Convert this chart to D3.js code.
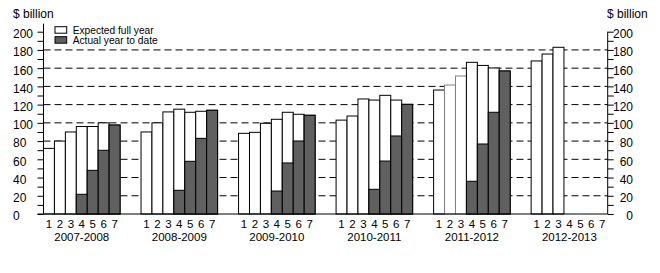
<!DOCTYPE html>
<html>
<head>
<meta charset="utf-8">
<script src="https://cdn.jsdelivr.net/npm/d3@7"></script>
<style>
  body { margin: 0; background: #fff; }
  text { font-family: "Liberation Sans", Arial, sans-serif; fill: #000; }
</style>
</head>
<body>
<svg id="chart" width="660" height="273"></svg>
<script>
// data
const years = ["2007-2008", "2008-2009", "2009-2010", "2010-2011", "2011-2012", "2012-2013"];
const slots = [1, 2, 3, 4, 5, 6, 7];
// expected full year, by slot (null = not yet)
const expected = [
  [72, 80, 90, 96, 96, 100, 97.6],
  [90, 100, 112, 115, 111.6, 112.7, 113.8],
  [88.5, 89.6, 99.5, 103.9, 111.6, 109.4, 108.3],
  [103, 107.5, 126.2, 125, 130.2, 125, 120.3],
  [136, 141.5, 151.4, 166.4, 163, 160.2, 156.9],
  [167.9, 175.5, 182.9, null, null, null, null]
];
// actual year to date, by slot
const actual = [
  [null, null, null, 21.6, 47.9, 69.9, 97.6],
  [null, null, null, 26, 57.8, 83, 113.8],
  [null, null, null, 25.2, 56, 80.1, 108.3],
  [null, null, null, 27.1, 58.1, 85.6, 120.3],
  [null, null, null, 35.9, 76.8, 111.6, 156.9],
  [null, null, null, null, null, null, null]
];
const yTicks = d3.range(0, 201, 10);
const yLabels = d3.range(0, 201, 20);
const gridVals = d3.range(20, 181, 20);

const DARK = "#606060";
const greyOutline = ["2011-2012|2", "2011-2012|3"]; // drawn with lighter edges

const LEFT = 43.5, RIGHT = 607.7, BOTTOM = 214, TOP = 31.7;

const svg = d3.select("#chart");

const x0 = d3.scaleBand().domain(years).range([LEFT, RIGHT]).paddingInner(0.215).paddingOuter(0);
const x1 = d3.scaleBand().domain(slots).range([0, x0.bandwidth()]).padding(0);
const y = d3.scaleLinear().domain([0, 200]).range([BOTTOM, TOP]);

// dashed gridlines
svg.append("g")
  .selectAll("line")
  .data(gridVals)
  .join("line")
  .attr("x1", LEFT).attr("x2", RIGHT)
  .attr("y1", d => y(d)).attr("y2", d => y(d))
  .attr("stroke", "#000")
  .attr("stroke-width", 1)
  .attr("stroke-dasharray", "7,4");

// bars
const groups = svg.append("g")
  .selectAll("g")
  .data(years)
  .join("g")
  .attr("transform", d => `translate(${x0(d)},0)`);

groups.selectAll("rect.exp")
  .data((yr, i) => slots.map((s, j) => ({ yr, s, v: expected[i][j] })).filter(d => d.v != null))
  .join("rect")
  .attr("class", "exp")
  .attr("x", d => x1(d.s))
  .attr("width", x1.bandwidth())
  .attr("y", d => y(d.v))
  .attr("height", d => y(0) - y(d.v))
  .attr("fill", "#fff")
  .attr("stroke", d => greyOutline.includes(d.yr + "|" + d.s) ? "#808080" : "#000")
  .attr("stroke-width", 1);

groups.selectAll("rect.act")
  .data((yr, i) => slots.map((s, j) => ({ yr, s, v: actual[i][j] })).filter(d => d.v != null))
  .join("rect")
  .attr("class", "act")
  .attr("x", d => x1(d.s))
  .attr("width", x1.bandwidth())
  .attr("y", d => y(d.v))
  .attr("height", d => y(0) - y(d.v))
  .attr("fill", DARK)
  .attr("stroke", "#000")
  .attr("stroke-width", 1);

// slot numbers and year labels
groups.selectAll("text.slot")
  .data(slots)
  .join("text")
  .attr("class", "slot")
  .attr("x", d => x1(d) + x1.bandwidth() / 2)
  .attr("y", 228)
  .attr("text-anchor", "middle")
  .attr("font-size", 11.5)
  .text(d => d);

groups.append("text")
  .attr("x", x0.bandwidth() / 2)
  .attr("y", 241)
  .attr("text-anchor", "middle")
  .attr("font-size", 11.5)
  .text(d => d);

// left axis
const left = svg.append("g")
  .attr("transform", `translate(${LEFT},0)`)
  .call(d3.axisLeft(y).tickValues(yTicks).tickSize(6).tickSizeOuter(0).tickFormat(""));
left.select(".domain").remove();
left.append("line")
  .attr("x1", 0).attr("x2", 0)
  .attr("y1", y(0)).attr("y2", y(200) - 8)
  .attr("stroke", "#000");

svg.append("g")
  .selectAll("text")
  .data(yLabels)
  .join("text")
  .attr("x", 13)
  .attr("y", d => y(d) + 6.4)
  .attr("font-size", 12)
  .text(d => d);

// right axis
const right = svg.append("g")
  .attr("transform", `translate(${RIGHT},0)`)
  .call(d3.axisRight(y).tickValues(yTicks).tickSize(6).tickSizeOuter(0).tickFormat(""));
right.select(".domain").remove();
right.append("line")
  .attr("x1", 0).attr("x2", 0)
  .attr("y1", y(0)).attr("y2", y(200))
  .attr("stroke", "#000");

svg.append("g")
  .selectAll("text")
  .data(yLabels)
  .join("text")
  .attr("x", 633)
  .attr("y", d => y(d) + 6.4)
  .attr("text-anchor", "end")
  .attr("font-size", 12)
  .text(d => d);

// x axis baseline
svg.append("line")
  .attr("x1", LEFT - 6).attr("x2", RIGHT)
  .attr("y1", y(0)).attr("y2", y(0))
  .attr("stroke", "#000");

svg.selectAll(".tick line").attr("stroke", "#000");

// units
svg.append("text").attr("x", 13).attr("y", 18).attr("font-size", 12).text("$ billion");
svg.append("text").attr("x", 607).attr("y", 18).attr("font-size", 12).text("$ billion");

// legend
const legend = [
  { label: "Expected full year", fill: "#fff" },
  { label: "Actual year to date", fill: DARK }
];
const lg = svg.append("g")
  .selectAll("g")
  .data(legend)
  .join("g")
  .attr("transform", (d, i) => `translate(55,${26.7 + i * 10})`);
lg.append("rect")
  .attr("width", 11.7).attr("height", 6.5)
  .attr("fill", d => d.fill)
  .attr("stroke", "#000");
lg.append("text")
  .attr("x", 17.7).attr("y", 6.8)
  .attr("font-size", 10.2)
  .text(d => d.label);
</script>
</body>
</html>
